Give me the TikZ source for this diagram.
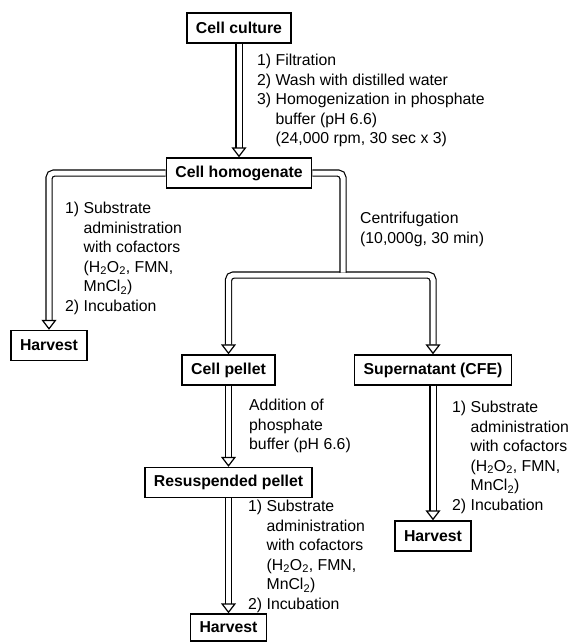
\documentclass[tikz,border=0pt]{standalone}
\usepackage{fontspec}
\setmainfont{Liberation Sans}
\usetikzlibrary{arrows.meta}

\newcommand{\ind}{\phantom{1) }}

\begin{document}
\begin{tikzpicture}[x=1pt, y=-1pt,
    font=\fontsize{15.8}{19.5}\selectfont,
    stage/.style={
        rectangle, draw, line width=1.4pt, minimum height=30pt,
        inner xsep=9pt, font=\fontsize{15.8}{19.5}\selectfont\bfseries
    },
    note/.style={anchor=north west, align=left, inner sep=0pt},
    hollow/.tip={Triangle[open, length=10pt, width=15pt]},
    flow/.style={double, double distance=5pt, line width=1.2pt,
        rounded corners=5pt, -hollow}
]
    \useasboundingbox (0,0) rectangle (574,643);

    \node[stage] (culture)  at (239, 28)      {Cell culture};
    \node[stage] (homog)    at (239, 173)     {Cell homogenate};
    \node[stage] (harvestL) at (49, 345.5)    {Harvest};
    \node[stage] (pellet)   at (228.5, 370)   {Cell pellet};
    \node[stage] (super)    at (433, 370)     {Supernatant (CFE)};
    \node[stage] (resus)    at (228.5, 482.5) {Resuspended pellet};
    \node[stage] (harvestR) at (433, 536)     {Harvest};
    \node[stage, minimum height=27pt] (harvestB) at (228.5, 627.5) {Harvest};
    \coordinate (split) at (343, 275);

    % step texts
    \node[note] (prep) at (257, 54) {1) Filtration\\
        2) Wash with distilled water\\
        3) Homogenization in phosphate\\
        \ind buffer (pH 6.6)\\
        \ind (24,000 rpm, 30 sec x 3)};
    \node[note] (feedL) at (65, 202) {1) Substrate\\
        \ind administration\\
        \ind with cofactors\\
        \ind (H\textsubscript{2}O\textsubscript{2}, FMN,\\
        \ind MnCl\textsubscript{2})\\
        2) Incubation};
    \node[note] (spin) at (360, 212) {Centrifugation\\(10,000g, 30 min)};
    \node[note] (buffer) at (249, 399) {Addition of\\phosphate\\buffer (pH 6.6)};
    \node[note] (feedR) at (452, 401) {1) Substrate\\
        \ind administration\\
        \ind with cofactors\\
        \ind (H\textsubscript{2}O\textsubscript{2}, FMN,\\
        \ind MnCl\textsubscript{2})\\
        2) Incubation};
    \node[note] (feedB) at (248, 500) {1) Substrate\\
        \ind administration\\
        \ind with cofactors\\
        \ind (H\textsubscript{2}O\textsubscript{2}, FMN,\\
        \ind MnCl\textsubscript{2})\\
        2) Incubation};

    % connectors
    \draw[flow] (culture) -- (homog);
    \draw[flow] (homog.west) -| (harvestL.north);
    \draw[flow, hollow-hollow] (pellet.north) |- (split) -| (super.north);
    \draw[flow, -, shorten >=2.5pt] (homog.east) -| (split);
    \draw[flow] (pellet) -- (resus);
    \draw[flow] (super) -- (harvestR);
    \draw[flow] (resus) -- (harvestB);
\end{tikzpicture}
\end{document}
